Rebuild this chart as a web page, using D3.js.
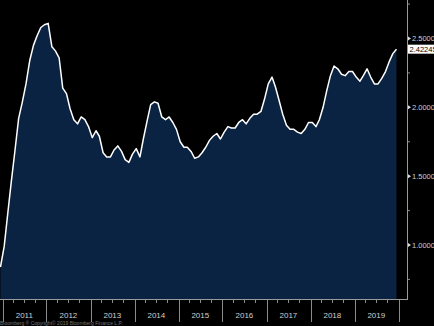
<!DOCTYPE html>
<html><head><meta charset="utf-8">
<script src="https://cdn.jsdelivr.net/npm/d3@7"></script>
<style>html,body{margin:0;padding:0;background:#000;overflow:hidden}svg{display:block}</style>
</head><body><svg id="c" width="434" height="326"></svg>
<script>
// Monthly values, Dec 2010 .. Dec 2019
const startYear = 2010, startMonth = 11; // December 2010
const values = [
0.84,
0.99,1.24,1.46,1.69,1.92,2.04,2.17,2.34,2.45,2.52,2.58,2.60,
2.61,2.44,2.41,2.36,2.14,2.10,1.99,1.91,1.88,1.93,1.91,1.86,
1.78,1.83,1.79,1.67,1.64,1.64,1.69,1.72,1.68,1.62,1.60,1.66,
1.70,1.64,1.77,1.90,2.02,2.04,2.03,1.93,1.91,1.93,1.89,1.84,
1.75,1.71,1.71,1.68,1.63,1.64,1.67,1.71,1.76,1.79,1.81,1.77,
1.82,1.86,1.85,1.85,1.89,1.91,1.88,1.92,1.95,1.95,1.97,2.06,
2.17,2.22,2.15,2.05,1.95,1.87,1.84,1.84,1.82,1.81,1.84,1.89,
1.89,1.86,1.91,2.00,2.12,2.23,2.30,2.28,2.24,2.23,2.26,2.26,
2.22,2.19,2.23,2.28,2.22,2.17,2.17,2.21,2.26,2.33,2.39,2.42245
];
const years = [2011,2012,2013,2014,2015,2016,2017,2018,2019];
const yMajor = [1.0,1.5,2.0,2.5];
const yMinor = [0.75,1.25,1.75,2.25,2.75];
const lastLabel = "2.42245";
const footer = "Bloomberg ® Copyright© 2019 Bloomberg Finance L.P.";

const data = values.map((v,i)=>({date:new Date(startYear, startMonth+i, 15), v}));

const svg = d3.select("#c");
const axisX = 407, baseY = 299;
const x = d3.scaleTime().domain([new Date(2011,0,1), new Date(2020,0,1)]).range([2.5, 398.5]);
const y = d3.scaleLinear().domain([1.0, 2.5]).range([245, 38.5]);

const fg = "#cfcfcf";
const font = "Liberation Sans, Arial, sans-serif";

// area
svg.append("path").datum(data)
  .attr("d", d3.area().x(d=>x(d.date)).y0(baseY).y1(d=>y(d.v)))
  .attr("fill", "#0b2342");
svg.append("path").datum(data)
  .attr("d", d3.line().x(d=>x(d.date)).y(d=>y(d.v)))
  .attr("fill","none").attr("stroke","#fff").attr("stroke-width",1.5).attr("stroke-linejoin","round");

// axes lines
svg.append("line").attr("x1",0).attr("x2",axisX).attr("y1",baseY+0.5).attr("y2",baseY+0.5).attr("stroke","#9a9a9a").attr("stroke-width",1);
svg.append("line").attr("x1",axisX+0.5).attr("x2",axisX+0.5).attr("y1",0).attr("y2",baseY+1).attr("stroke","#9a9a9a").attr("stroke-width",1);

// y ticks
yMajor.forEach(v=>{
  const yy = y(v);
  svg.append("path").attr("d",`M${axisX+1},${yy-2}L${axisX+4},${yy}L${axisX+1},${yy+2}Z`).attr("fill","#ddd");
  svg.append("text").attr("x",axisX+5).attr("y",yy+2.5).text(v.toFixed(5))
    .attr("fill",fg).attr("font-family",font).attr("font-size",7.5);
});
yMinor.forEach(v=>{
  const yy = y(v);
  svg.append("line").attr("x1",axisX+1).attr("x2",axisX+3).attr("y1",yy).attr("y2",yy).attr("stroke","#888");
});

// last value label
const ly = y(values[values.length-1]);
svg.append("rect").attr("x",axisX+1).attr("y",ly-4.5).attr("width",30).attr("height",9).attr("fill","#fff");
svg.append("text").attr("x",axisX+2.5).attr("y",ly+2.5).text(lastLabel).attr("fill","#000").attr("font-family",font).attr("font-size",7.5);

// x axis: year separators, quarter ticks, labels
const bounds = years.concat([2020]);
bounds.forEach(yr=>{
  const xx = Math.round(x(new Date(yr,0,1)))+0.5;
  svg.append("line").attr("x1",xx).attr("x2",xx).attr("y1",baseY+1).attr("y2",322).attr("stroke","#8a8a8a");
});
years.forEach(yr=>{
  [3,6,9].forEach(m=>{
    const xx = Math.round(x(new Date(yr,m,1)))+0.5;
    svg.append("line").attr("x1",xx).attr("x2",xx).attr("y1",baseY+1).attr("y2",baseY+4).attr("stroke","#8a8a8a");
  });
  const xc = x(new Date(yr,6,1));
  svg.append("text").attr("x",xc).attr("y",318).attr("text-anchor","middle").text(yr)
    .attr("fill",fg).attr("font-family",font).attr("font-size",8);
});

svg.append("text").attr("x",0).attr("y",325).text(footer).attr("fill","#777").attr("font-family",font).attr("font-size",5);
</script></body></html>
